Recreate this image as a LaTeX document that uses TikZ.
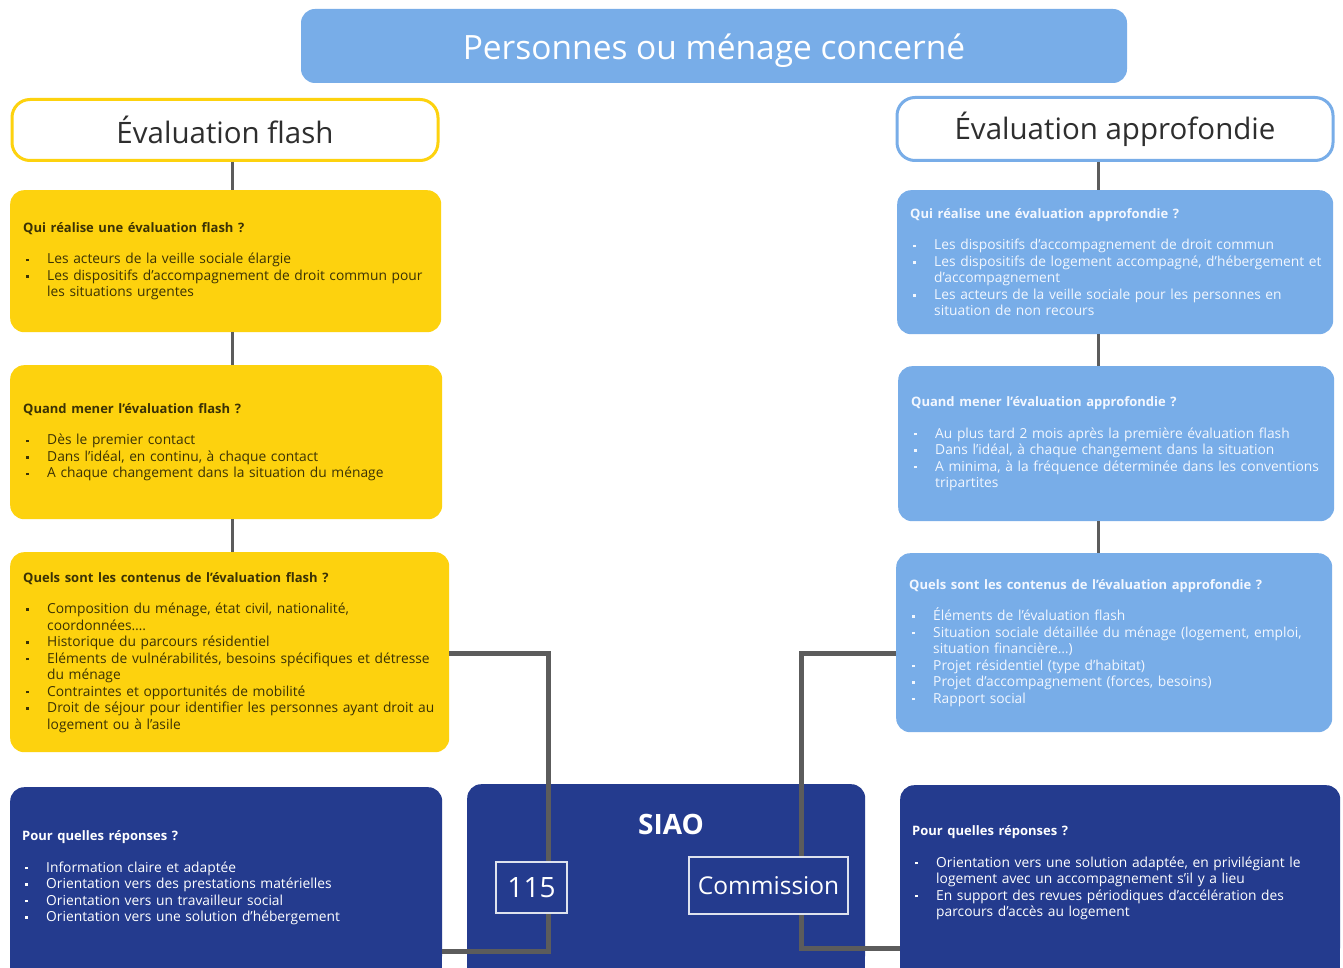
\documentclass[tikz,border=0pt]{standalone}
\usepackage{fontspec}
\setmainfont{Open Sans}
\definecolor{myyellow}{HTML}{FDD20E}
\definecolor{myblue}{HTML}{78ADE8}
\definecolor{navy}{HTML}{243B8E}
\definecolor{conn}{HTML}{5C5C5C}
\definecolor{ytext}{HTML}{3B3205}
\definecolor{btext}{HTML}{F2F7FF}
\definecolor{htext}{HTML}{2E2E2E}
\newenvironment{bl}{\begin{list}{\raisebox{2.6pt}{\rule{2.6pt}{2.6pt}}}{%
  \setlength{\leftmargin}{24pt}\setlength{\labelwidth}{24pt}\setlength{\labelsep}{0pt}%
  \setlength{\itemsep}{0pt}\setlength{\parsep}{0pt}\setlength{\topsep}{0pt}%
  \setlength{\partopsep}{0pt}\setlength{\listparindent}{0pt}\setlength{\itemindent}{0pt}%
  \def\makelabel##1{\hspace{3pt}##1\hfil}}}{\end{list}}
\newcommand{\ttl}[1]{\noindent{\fontsize{13}{16.5}\selectfont\bfseries #1}\par\vspace{15pt}}
\tikzset{
  box/.style={rounded corners=14pt, anchor=north west, inner xsep=13pt, inner ysep=0pt, align=left,
    font=\fontsize{13.8}{16.5}\selectfont},
  ybox/.style={box, fill=myyellow, text=ytext},
  bbox/.style={box, fill=myblue, text=btext},
  nbox/.style={box, fill=navy, text=white},
  head/.style={rounded corners=18pt, fill=white, line width=3pt, text=htext, font=\fontsize{29.5}{32}\selectfont},
  thin/.style={draw=conn, line width=3pt},
  elbow/.style={draw=conn, line width=5pt},
  frame/.style={draw=white!85!navy, line width=1.2pt, fill=navy, text=white, inner sep=0pt}
}
\begin{document}
\begin{tikzpicture}[x=1pt,y=-1pt]
\useasboundingbox (0,0) rectangle (1343,968);
\fill[white] (0,0) rectangle (1343,968);

% top
\node[fill=myblue, rounded corners=14pt, minimum width=826pt, minimum height=74pt, text=white,
  text height=35pt, text depth=8pt, font=\fontsize{33.5}{36}\selectfont] (top) at (714,46) {Personnes ou ménage concerné};

% headers
\node[head, draw=myyellow, minimum width=426pt, minimum height=61pt] (hf) at (225,130) {Évaluation flash};
\node[head, draw=myblue, minimum width=436pt, minimum height=63pt] (ha) at (1115,129) {Évaluation approfondie};

% yellow column
\node[ybox, text width=405pt, minimum height=142pt] (y1) at (10,190) {%
\ttl{Qui réalise une évaluation flash ?}%
\begin{bl}
\item Les acteurs de la veille sociale élargie
\item Les dispositifs d’accompagnement de droit commun pour\par les situations urgentes
\end{bl}};

\node[ybox, text width=406pt, minimum height=154pt] (y2) at (10,365) {%
\ttl{Quand mener l’évaluation flash ?}%
\begin{bl}
\item Dès le premier contact
\item Dans l’idéal, en continu, à chaque contact
\item A chaque changement dans la situation du ménage
\end{bl}};

\node[ybox, text width=413pt, minimum height=200pt] (y3) at (10,552) {%
\ttl{Quels sont les contenus de l’évaluation flash ?}%
\begin{bl}
\item Composition du ménage, état civil, nationalité,\par coordonnées….
\item Historique du parcours résidentiel
\item Eléments de vulnérabilités, besoins spécifiques et détresse\par du ménage
\item Contraintes et opportunités de mobilité
\item Droit de séjour pour identifier les personnes ayant droit au\par logement ou à l’asile
\end{bl}};

% blue column
\node[bbox, text width=410pt, minimum height=144pt] (b1) at (897,190) {%
\ttl{Qui réalise une évaluation approfondie ?}%
\begin{bl}
\item Les dispositifs d’accompagnement de droit commun
\item \makebox[\linewidth][l]{Les dispositifs de logement accompagné, d’hébergement et}\par d’accompagnement
\item Les acteurs de la veille sociale pour les personnes en\par situation de non recours
\end{bl}};

\node[bbox, text width=410pt, minimum height=155pt] (b2) at (898,366) {%
\ttl{Quand mener l’évaluation approfondie ?}%
\begin{bl}
\item Au plus tard 2 mois après la première évaluation flash
\item Dans l’idéal, à chaque changement dans la situation
\item A minima, à la fréquence déterminée dans les conventions\par tripartites
\end{bl}};

\node[bbox, text width=410pt, minimum height=179pt] (b3) at (896,553) {%
\ttl{Quels sont les contenus de l’évaluation approfondie ?}%
\begin{bl}
\item Éléments de l’évaluation flash
\item Situation sociale détaillée du ménage (logement, emploi,\par situation financière…)
\item Projet résidentiel (type d’habitat)
\item Projet d’accompagnement (forces, besoins)
\item Rapport social
\end{bl}};

% navy bottom row
\fill[navy] (10,940) rectangle (442,968);
\fill[navy] (467,940) rectangle (865,968);
\fill[navy] (900,940) rectangle (1340,968);
\node[nbox, inner xsep=12pt, text width=408pt, minimum height=181pt] (nl) at (10,787) {%
\ttl{Pour quelles réponses ?}%
\begin{bl}
\item Information claire et adaptée
\item Orientation vers des prestations matérielles
\item Orientation vers un travailleur social
\item Orientation vers une solution d’hébergement
\end{bl}};

\node[fill=navy, rounded corners=14pt, minimum width=398pt, minimum height=184pt, anchor=north west] (siao) at (467,784) {};
\node[text=white, font=\fontsize{28}{30}\selectfont\bfseries] (siaot) at (671,824) {SIAO};

\node[nbox, inner xsep=12pt, text width=416pt, minimum height=175pt] (nr) at (900,785) {%
\ttl{Pour quelles réponses ?}%
\begin{bl}
\item Orientation vers une solution adaptée, en privilégiant le\par logement avec un accompagnement s’il y a lieu
\item En support des revues périodiques d’accélération des\par parcours d’accès au logement
\end{bl}};

% vertical connectors
\coordinate (lx) at (232,0);
\coordinate (rx) at (1098,0);
\draw[thin] (hf.south -| lx) -- (y1.north -| lx);
\draw[thin] (y1.south -| lx) -- (y2.north -| lx);
\draw[thin] (y2.south -| lx) -- (y3.north -| lx);
\draw[thin] (ha.south -| rx) -- (b1.north -| rx);
\draw[thin] (b1.south -| rx) -- (b2.north -| rx);
\draw[thin] (b2.south -| rx) -- (b3.north -| rx);

% elbow connectors
\coordinate (lt) at (548,653);
\coordinate (lb) at (548,951);
\coordinate (rt) at (801,653);
\coordinate (rb) at (801,948);
\draw[elbow] (lt -| y3.east) -- (lt) -- (lb) -- (lb -| nl.east);
\draw[elbow] (rt -| b3.west) -- (rt) -- (rb) -- (rb -| nr.west);

% inner frames
\node[frame, minimum width=71pt, minimum height=51pt, font=\fontsize{28}{30}\selectfont] (n115) at (531.5,887.5) {115};
\node[frame, minimum width=159pt, minimum height=57pt, font=\fontsize{24.5}{26}\selectfont] (comm) at (768.5,885.5) {Commission};
\end{tikzpicture}
\end{document}
